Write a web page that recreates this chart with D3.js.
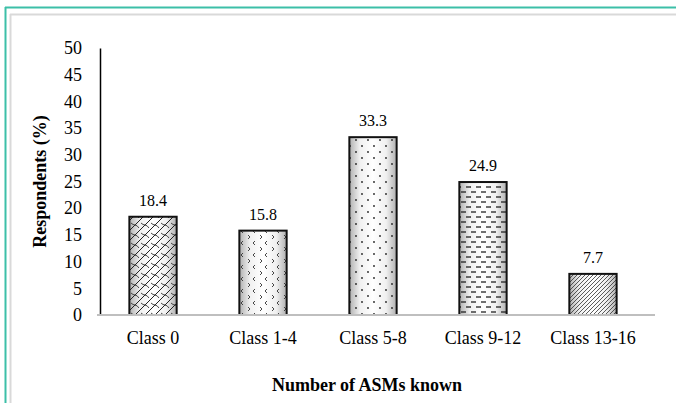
<!DOCTYPE html>
<html>
<head>
<meta charset="utf-8">
<script src="https://cdn.jsdelivr.net/npm/d3@7"></script>
<style>
  html, body { margin: 0; padding: 0; background: #fff; }
  svg { display: block; }
  text { font-family: "Liberation Serif", "Times New Roman", serif; fill: #000; }
</style>
</head>
<body>
<svg id="chart" width="676" height="403"></svg>
<script>
// Share of respondents by number of anti-seizure medications known
const categories = ["Class 0", "Class 1-4", "Class 5-8", "Class 9-12", "Class 13-16"];
const values = [18.4, 15.8, 33.3, 24.9, 7.7];
const yTicks = [0, 5, 10, 15, 20, 25, 30, 35, 40, 45, 50];
const patternIds = ["pat-lattice", "pat-marks", "pat-dots", "pat-dashes", "pat-diag"];

const svg = d3.select("#chart");
const W = 676, H = 403;
const serif = "'Liberation Serif', 'Times New Roman', serif";

// Frame lines
svg.append("line").attr("x1", 5).attr("x2", W).attr("y1", 7.5).attr("y2", 7.5)
  .attr("stroke", "#3cbfa8").attr("stroke-width", 2);
svg.append("line").attr("x1", 5.5).attr("x2", 5.5).attr("y1", 7).attr("y2", H)
  .attr("stroke", "#3cbfa8").attr("stroke-width", 2);
svg.append("line").attr("x1", 10).attr("x2", W).attr("y1", 14.5).attr("y2", 14.5)
  .attr("stroke", "#d9d9d9").attr("stroke-width", 2);
svg.append("line").attr("x1", 10.5).attr("x2", 10.5).attr("y1", 14).attr("y2", H)
  .attr("stroke", "#d9d9d9").attr("stroke-width", 2);

const plotLeft = 100, axisEnd = 655, plotTop = 48, plotBottom = 315;
const x = d3.scaleBand().domain(categories)
  .range([plotLeft, 646]).paddingInner(0.57).paddingOuter(0.267);
const y = d3.scaleLinear().domain([0, 50]).range([plotBottom, plotTop]);

// Fill definitions: a grey-white-grey shading plus one texture per class
const defs = svg.append("defs");
const grad = defs.append("linearGradient").attr("id", "shade")
  .attr("x1", "0%").attr("x2", "100%").attr("y1", "0%").attr("y2", "0%");
grad.append("stop").attr("offset", "0%").attr("stop-color", "#b0b0b0");
grad.append("stop").attr("offset", "22%").attr("stop-color", "#f0f0f0");
grad.append("stop").attr("offset", "50%").attr("stop-color", "#ffffff");
grad.append("stop").attr("offset", "78%").attr("stop-color", "#f0f0f0");
grad.append("stop").attr("offset", "100%").attr("stop-color", "#b0b0b0");

function pattern(id, w, h, draw) {
  const p = defs.append("pattern").attr("id", id).attr("patternUnits", "userSpaceOnUse")
    .attr("width", w).attr("height", h);
  draw(p);
}
// lattice of wavy diagonal links
pattern("pat-lattice", 10, 10, p => {
  p.append("path").attr("d", "M0,10 L10,0 M-2,2 L2,-2 M8,12 L12,8")
    .attr("stroke", "#222").attr("stroke-width", 1).attr("fill", "none");
  p.append("path").attr("d", "M1,3 Q3,5 5,5 Q7,5 9,8")
    .attr("stroke", "#333").attr("stroke-width", 0.9).attr("fill", "none");
});
// small chevron marks
pattern("pat-marks", 12, 12, p => {
  p.append("path").attr("d", "M3,1 L1,3 L3,5").attr("stroke", "#333").attr("stroke-width", 0.9).attr("fill", "none");
  p.append("path").attr("d", "M8,7 L10,9 L8,11").attr("stroke", "#333").attr("stroke-width", 0.9).attr("fill", "none");
});
// sparse dots
pattern("pat-dots", 12, 12, p => {
  p.append("circle").attr("cx", 2).attr("cy", 2).attr("r", 0.9).attr("fill", "#222");
  p.append("circle").attr("cx", 8).attr("cy", 8).attr("r", 0.9).attr("fill", "#222");
});
// short dashes
pattern("pat-dashes", 10, 10, p => {
  p.append("line").attr("x1", 1).attr("x2", 6).attr("y1", 2).attr("y2", 2)
    .attr("stroke", "#222").attr("stroke-width", 1.3);
  p.append("line").attr("x1", 6).attr("x2", 11).attr("y1", 7).attr("y2", 7)
    .attr("stroke", "#222").attr("stroke-width", 1.3);
  p.append("line").attr("x1", -4).attr("x2", 1).attr("y1", 7).attr("y2", 7)
    .attr("stroke", "#222").attr("stroke-width", 1.3);
});
// fine diagonal hatching
pattern("pat-diag", 4, 4, p => {
  p.append("path").attr("d", "M-1,5 L5,-1 M-1,1 L1,-1 M3,5 L5,3")
    .attr("stroke", "#333").attr("stroke-width", 0.8).attr("fill", "none");
});

// Bars
const bars = svg.append("g").selectAll("g").data(categories).join("g");
bars.append("rect")
  .attr("x", d => x(d)).attr("width", x.bandwidth())
  .attr("y", (d, i) => y(values[i])).attr("height", (d, i) => y(0) - y(values[i]))
  .attr("fill", "url(#shade)");
bars.append("rect")
  .attr("x", d => x(d)).attr("width", x.bandwidth())
  .attr("y", (d, i) => y(values[i])).attr("height", (d, i) => y(0) - y(values[i]))
  .attr("fill", (d, i) => `url(#${patternIds[i]})`)
  .attr("stroke", "#111").attr("stroke-width", 2);

// Value labels
svg.append("g").selectAll("text").data(categories).join("text")
  .attr("x", d => x(d) + x.bandwidth() / 2)
  .attr("y", (d, i) => y(values[i]) - 11)
  .attr("text-anchor", "middle").attr("font-size", 16)
  .text((d, i) => values[i].toFixed(1));

// Y axis
const yAxis = svg.append("g").attr("transform", `translate(${plotLeft},0)`)
  .call(d3.axisLeft(y).tickValues(yTicks).tickSize(0).tickPadding(18));
yAxis.select(".domain").attr("stroke", "#000").attr("stroke-width", 1.5);
yAxis.selectAll("text").attr("font-size", 18).style("font-family", serif);

// X axis
const xAxis = svg.append("g").attr("transform", `translate(0,${y(0)})`)
  .call(d3.axisBottom(x).tickSize(0).tickPadding(16));
xAxis.select(".domain").attr("d", `M${plotLeft - 3},0H${axisEnd}`)
  .attr("stroke", "#bfbfbf").attr("stroke-width", 2);
xAxis.selectAll("text").attr("font-size", 18).style("font-family", serif);

// Axis titles
svg.append("text")
  .attr("transform", `translate(46,${(y(0) + y(50)) / 2}) rotate(-90)`)
  .attr("text-anchor", "middle").attr("font-size", 18).attr("font-weight", "bold")
  .text("Respondents (%)");
svg.append("text")
  .attr("x", 367).attr("y", 391)
  .attr("text-anchor", "middle").attr("font-size", 18).attr("font-weight", "bold")
  .text("Number of ASMs known");
</script>
</body>
</html>
